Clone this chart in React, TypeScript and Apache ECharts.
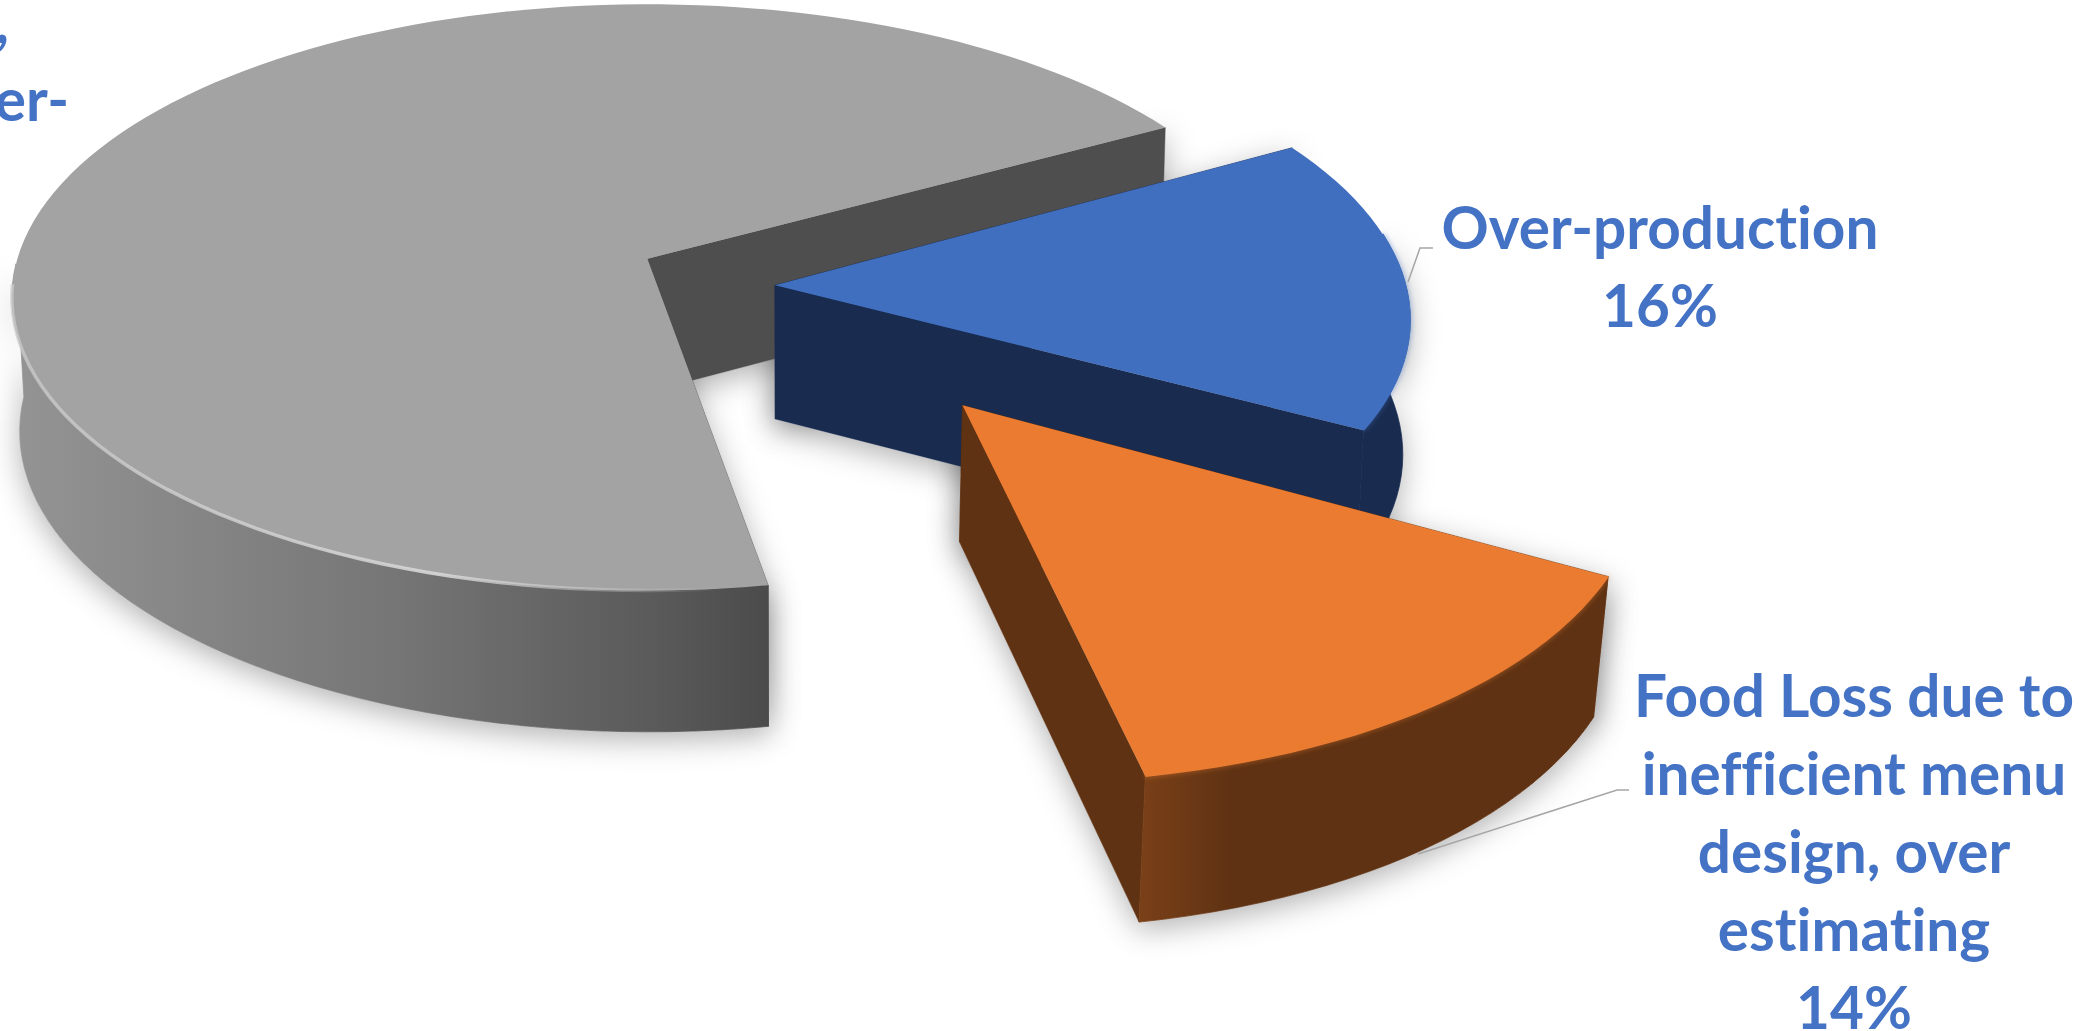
import React, { useEffect, useRef } from "react";
import * as echarts from "echarts";

const categories = ["Other share", "Over-production", "Food Loss due to inefficient menu design, over estimating"];
const values = [70, 16, 14];
const labelLines = [[], ["Over-production"], ["Food Loss due to", "inefficient menu", "design, over", "estimating"]];
const clippedLabelLines = [",", "er-"];

const FONT = "Lato";
const BLUE_TEXT = "#4472c4";
const topColors = ["#a3a3a3", "#416fbf", "#ea7b30"];
const wallColors = ["#4e4e4e", "#192b4e", "#5f3213"];

// disc projection
const CX = 647.4, CY = 258.7, RX = 630, RY = 288, PERSP = 0.132;
const START_DEG = 280;
const explode = [[0, 0], [0.2, -0.091], [0.4686, -0.477]];
const arcLift = [0, 0.04, 0];
const radius = [1, 0.99, 0.99];
const shrinkX = [0.01, 0.012, 0.018];
// the drawing's slices sit a little off the exact shares
const angleNudge = [[-0.4, 1], [-0.5, -0.8], [0.2, -0.1]];

function project(u: number, v: number) {
  const w = 1 + PERSP * v;
  return [CX + (RX * u) / w, CY - (RY * v) / w];
}
function extrude(p: number[], s: number) {
  return [p[0] - s * (p[0] - 798), p[1] + 133 + 0.025 * (p[1] - 258)];
}
function arc(i: number, a0: number, a1: number) {
  const n = Math.max(2, Math.ceil(Math.abs(a1 - a0) / 2));
  const out: number[][] = [];
  for (let k = 0; k <= n; k++) {
    const t = ((a0 + ((a1 - a0) * k) / n) * Math.PI) / 180;
    out.push(project(explode[i][0] + radius[i] * Math.cos(t), explode[i][1] + arcLift[i] + radius[i] * Math.sin(t)));
  }
  return out;
}
function sliceAngles(index: number) {
  const total = values.reduce((a, b) => a + b, 0);
  let a = START_DEG;
  for (let k = 0; k < index; k++) a -= (values[k] / total) * 360;
  const b = a - (values[index] / total) * 360;
  return [a + angleNudge[index][0], b + angleNudge[index][1]];
}
// the part of the rim that faces the viewer
function frontRange(i: number) {
  const [a0, a1] = sliceAngles(i);
  if (i === 0) return [a0, 181];
  if (i === 1) return [a1, 8];
  return [a0, a1];
}
function sideGradient(i: number) {
  if (i === 0)
    return new echarts.graphic.LinearGradient(0, 0, 1, 0, [
      { offset: 0, color: "#949494" },
      { offset: 0.5, color: "#767676" },
      { offset: 0.85, color: "#5a5a5a" },
      { offset: 1, color: "#4b4b4b" },
    ]);
  if (i === 2)
    return new echarts.graphic.LinearGradient(0, 0, 1, 0, [
      { offset: 0, color: "#7a4018" },
      { offset: 0.2, color: "#5f3213" },
      { offset: 1, color: "#5f3213" },
    ]);
  return wallColors[i];
}
function sidePoints(i: number) {
  const [f0, f1] = frontRange(i);
  const top = arc(i, f0, f1);
  return [...top, ...top.slice().reverse().map((p) => extrude(p, shrinkX[i]))];
}
function apex(i: number) {
  return project(explode[i][0], explode[i][1]);
}

function renderShadow(params: any) {
  const i = params.dataIndex;
  const [a0, a1] = sliceAngles(i);
  const ap = apex(i);
  const e0 = arc(i, a0, a0)[0];
  const e1 = arc(i, a1, a1)[0];
  const wall = (e: number[]) => [ap, e, extrude(e, shrinkX[i]), extrude(ap, shrinkX[i])];
  const style = { fill: "#ffffff", shadowBlur: 30, shadowColor: "rgba(0,0,0,0.3)", shadowOffsetX: 0, shadowOffsetY: 8 };
  return {
    type: "group",
    children: [
      { type: "polygon", shape: { points: sidePoints(i) }, style },
      { type: "polygon", shape: { points: wall(e0) }, style },
      { type: "polygon", shape: { points: wall(e1) }, style },
    ],
  };
}

function renderSlice(params: any, api: any) {
  const i = params.dataIndex;
  const value = api.value(0);
  const [a0, a1] = sliceAngles(i);
  const ap = apex(i);
  const rim = arc(i, a0, a1);
  const e0 = rim[0];
  const e1 = rim[rim.length - 1];
  const s = shrinkX[i];
  const wall = (e: number[]) => ({
    type: "polygon",
    shape: { points: [ap, e, extrude(e, s), extrude(ap, s)] },
    style: { fill: wallColors[i], stroke: wallColors[i], lineWidth: 0.5 },
  });
  const children: any[] = [];
  const [farE, nearE] = i === 0 ? [e1, e0] : [e0, e1];
  children.push(wall(farE), wall(nearE));
  const side = sideGradient(i);
  children.push({
    type: "polygon",
    shape: { points: sidePoints(i) },
    style: { fill: side, stroke: side, lineWidth: 0.8 },
  });
  children.push({
    type: "polygon",
    shape: { points: [ap, ...rim] },
    style: { fill: topColors[i] },
  });
  if (i === 0) {
    children.push({
      type: "polyline",
      shape: { points: arc(0, 185, 276) },
      style: {
        fill: "none",
        lineWidth: 3.5,
        stroke: new echarts.graphic.LinearGradient(0, 0, 1, 0, [
          { offset: 0, color: "rgba(205,205,205,0.7)" },
          { offset: 0.6, color: "rgba(215,215,215,0.9)" },
          { offset: 1, color: "rgba(215,215,215,0)" },
        ]),
      },
    });
  } else {
    const [f0, f1] = frontRange(i);
    children.push({
      type: "polyline",
      shape: { points: arc(i, f0, f1) },
      style: { fill: "none", lineWidth: 1.5, stroke: topColors[i], shadowBlur: 5, shadowColor: topColors[i] },
    });
  }
  const textStyle = {
    fontFamily: FONT,
    fontWeight: "bold",
    fontSize: 58.5,
    fill: BLUE_TEXT,
    textAlign: "center",
    textVerticalAlign: "bottom",
  };
  const lines = labelLines[i];
  const anchors = [null, [1660, 258], [1854, 726]];
  if (anchors[i]) {
    const [x, y] = anchors[i] as number[];
    [...lines, `${value}%`].forEach((t, k) => {
      children.push({
        type: "text",
        x,
        y: y + 78 * k - 2.5,
        style: { ...textStyle, text: t },
      });
    });
  }
  if (i === 0) {
    clippedLabelLines.forEach((t, k) => {
      children.push({
        type: "text",
        x: [9, 69][k],
        y: [52, 130][k] - 2.5,
        style: { ...textStyle, text: t, textAlign: "right" },
      });
    });
  }
  const leaders = [
    null,
    [[1408, 282], [1420, 248], [1433, 248]],
    [[1418, 854], [1617, 790], [1629, 790]],
  ];
  if (leaders[i]) {
    children.push({
      type: "polyline",
      shape: { points: leaders[i] },
      style: { fill: "none", stroke: "#a6a6a6", lineWidth: 1.5 },
    });
  }
  return { type: "group", children };
}

export default function App() {
  const ref = useRef<HTMLDivElement>(null);
  useEffect(() => {
    document.body.style.margin = "0";
    document.documentElement.style.overflow = "hidden";
    const chart = echarts.init(ref.current!, undefined, { renderer: "svg" });
    const data = values.map((v, i) => ({ name: categories[i], value: v }));
    chart.setOption({
      animation: false,
      backgroundColor: "#ffffff",
      tooltip: { show: false },
      series: [
        { type: "custom", coordinateSystem: "none", silent: true, renderItem: renderShadow, data, z: 1 },
        { type: "custom", coordinateSystem: "none", silent: true, renderItem: renderSlice, data, z: 2 },
      ],
    });
    return () => chart.dispose();
  }, []);
  return (
    <div
      ref={ref}
      style={{
        width: 2081,
        height: 1031,
        background: "#fff",
        fontVariantLigatures: "none",
      }}
    />
  );
}
